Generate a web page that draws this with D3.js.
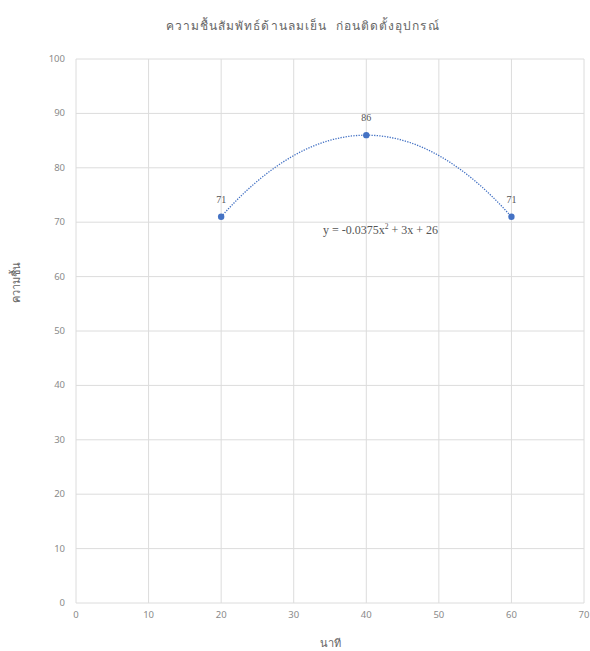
<!DOCTYPE html>
<html>
<head>
<meta charset="utf-8">
<script src="https://cdn.jsdelivr.net/npm/d3@7"></script>
<style>
  body { margin: 0; background: #fff; }
  text { font-family: "Noto Sans", "DejaVu Sans", sans-serif; }
</style>
</head>
<body>
<svg id="chart"></svg>
<script>
const minutes = [20, 40, 60];
const humidity = [71, 86, 71];
const trendCoef = [-0.0375, 3, 26];   // y = a x^2 + b x + c
const xTicks = [0, 10, 20, 30, 40, 50, 60, 70];
const yTicks = [0, 10, 20, 30, 40, 50, 60, 70, 80, 90, 100];

const width = 590, height = 651;
const margin = { top: 59, right: 6, bottom: 48, left: 76 };

const svg = d3.select("#chart")
    .attr("width", width)
    .attr("height", height);

const x = d3.scaleLinear().domain([0, 70]).range([margin.left, width - margin.right]);
const y = d3.scaleLinear().domain([0, 100]).range([height - margin.bottom, margin.top]);

// grid
svg.append("g")
    .selectAll("line")
    .data(yTicks)
    .enter().append("line")
    .attr("x1", x(0)).attr("x2", x(70))
    .attr("y1", d => y(d)).attr("y2", d => y(d))
    .attr("stroke", "#dcdcdc")
    .attr("stroke-width", 1);

svg.append("g")
    .selectAll("line")
    .data(xTicks)
    .enter().append("line")
    .attr("x1", d => x(d)).attr("x2", d => x(d))
    .attr("y1", y(0)).attr("y2", y(100))
    .attr("stroke", "#dcdcdc")
    .attr("stroke-width", 1);

// tick labels
svg.append("g")
    .attr("transform", `translate(0,${y(0) + 15})`)
    .selectAll("text")
    .data(xTicks)
    .enter().append("text")
    .attr("x", d => x(d))
    .attr("text-anchor", "middle")
    .attr("font-size", 9.5)
    .attr("fill", "#8a8a8a")
    .text(d => d);

svg.append("g")
    .selectAll("text")
    .data(yTicks)
    .enter().append("text")
    .attr("x", margin.left - 11)
    .attr("y", d => y(d) + 3)
    .attr("text-anchor", "end")
    .attr("font-size", 9.5)
    .attr("fill", "#8a8a8a")
    .text(d => d);

// trendline
const trend = t => trendCoef[0] * t * t + trendCoef[1] * t + trendCoef[2];
const trendPts = d3.range(minutes[0], minutes[minutes.length - 1] + 0.5, 0.5);
svg.append("path")
    .datum(trendPts)
    .attr("fill", "none")
    .attr("stroke", "#4472c4")
    .attr("stroke-width", 1.3)
    .attr("stroke-dasharray", "1.3,1.3")
    .attr("d", d3.line().x(d => x(d)).y(d => y(trend(d))));

// points
svg.append("g")
    .selectAll("circle")
    .data(minutes)
    .enter().append("circle")
    .attr("cx", d => x(d))
    .attr("cy", (d, i) => y(humidity[i]))
    .attr("r", 3.2)
    .attr("fill", "#4472c4");

// data labels
svg.append("g")
    .selectAll("text")
    .data(minutes)
    .enter().append("text")
    .attr("x", d => x(d))
    .attr("y", (d, i) => y(humidity[i]) - 14)
    .attr("text-anchor", "middle")
    .attr("font-size", 10)
    .style("font-family", "'Liberation Serif', serif")
    .attr("fill", "#555")
    .text((d, i) => humidity[i]);

// equation
const eq = svg.append("text")
    .attr("x", 323)
    .attr("y", 234)
    .attr("font-size", 12)
    .style("font-family", "'Liberation Serif', serif")
    .attr("fill", "#555");
eq.append("tspan").text("y = -0.0375x");
eq.append("tspan").attr("dy", -5).attr("font-size", 7.5).text("2");
eq.append("tspan").attr("dy", 5).text(" + 3x + 26");

// title
svg.append("text")
    .attr("x", 302)
    .attr("y", 30)
    .attr("text-anchor", "middle")
    .attr("font-size", 12)
    .attr("fill", "#666")
    .attr("textLength", 273)
    .attr("lengthAdjust", "spacing")
    .style("white-space", "pre")
    .text("ความชื้นสัมพัทธ์ด้านลมเย็น  ก่อนติดตั้งอุปกรณ์");

// axis titles
svg.append("text")
    .attr("x", (x(0) + x(70)) / 2)
    .attr("y", 647)
    .attr("text-anchor", "middle")
    .attr("font-size", 11)
    .attr("fill", "#666")
    .text("นาที");

svg.append("text")
    .attr("transform", "translate(20,282) rotate(-90)")
    .attr("text-anchor", "middle")
    .attr("font-size", 11)
    .attr("fill", "#666")
    .text("ความชื้น");
</script>
</body>
</html>
